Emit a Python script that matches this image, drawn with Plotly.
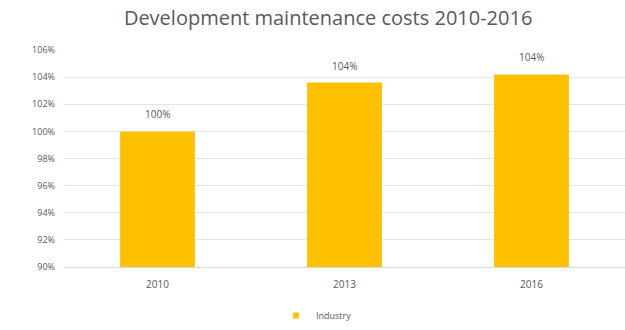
import plotly.graph_objects as go

years = ["2010", "2013", "2016"]
values = [100.0, 103.6, 104.2]
labels = ["100%", "104%", "104%"]
tick_vals = [90, 92, 94, 96, 98, 100, 102, 104, 106]
tick_text = ["90%", "92%", "94%", "96%", "98%", "100%", "102%", "104%", "106%"]

fig = go.Figure()
fig.add_trace(go.Bar(
    x=years, y=values, name="Industry",
    marker=dict(color="#FFC000", line=dict(width=0)),
    width=0.4, showlegend=False,
))
# legend entry with a small square marker
fig.add_trace(go.Scatter(
    x=[years[0]], y=[None], mode="markers", name="Industry",
    marker=dict(symbol="square", size=6, color="#FFC000"),
))
for i, (v, lab) in enumerate(zip(values, labels)):
    fig.add_annotation(x=i, y=v, text=lab, showarrow=False, yanchor="bottom",
                       yshift=8, font=dict(size=10, color="#595959"))

fig.update_layout(
    width=625, height=330,
    margin=dict(l=64, r=0, t=50, b=62),
    paper_bgcolor="white", plot_bgcolor="white",
    font=dict(family="Open Sans", color="#595959"),
    title=dict(text="Development maintenance costs 2010-2016", x=0.525, xanchor="center",
               y=0.945, yanchor="middle", font=dict(size=20, color="#595959")),
    showlegend=True,
    legend=dict(orientation="h", x=0.45, xanchor="center", y=-0.225, yanchor="middle",
                font=dict(size=9, color="#595959"), itemwidth=30),
    xaxis=dict(type="category", range=[-0.5, 2.5], showgrid=False, showline=True,
               linecolor="#D9D9D9", linewidth=1,
               tickfont=dict(size=10, color="#595959"), ticks="", ticklabelstandoff=8),
    yaxis=dict(range=[90, 106], tickvals=tick_vals, ticktext=tick_text,
               showgrid=True, gridcolor="#E6E6E6", gridwidth=1, zeroline=False,
               tickfont=dict(size=9, color="#595959"), ticks="", ticklabelstandoff=8),
)

fig.write_html("out.html")
